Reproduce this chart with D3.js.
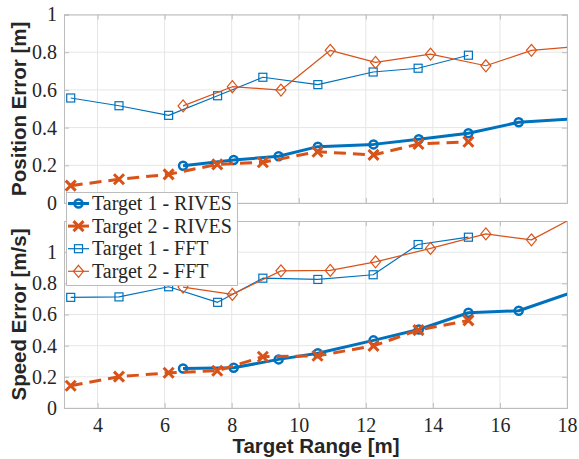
<!DOCTYPE html>
<html>
<head>
<meta charset="utf-8">
<script src="https://cdn.jsdelivr.net/npm/d3@7"></script>
<style>
  body { margin: 0; background: #fff; }
  svg { display: block; }
  .serif { font-family: "Liberation Serif", "Times New Roman", serif; }
</style>
</head>
<body>
<script>
// values (the last point of some lines lies past x=18 and is clipped)
const t1RivesX = [6.55, 8.06, 9.4, 10.57, 12.23, 13.58, 15.06, 16.56, 18.4];
const t2RivesX = [3.2, 4.64, 6.12, 7.57, 8.93, 10.56, 12.23, 13.57, 15.06];
const t1FftX   = [3.2, 4.64, 6.12, 7.58, 8.93, 10.57, 12.22, 13.56, 15.06];
const t2FftX   = [6.55, 8.02, 9.47, 10.94, 12.29, 13.93, 15.58, 16.94, 18.4];

// position error [m]
const posT1Rives = [0.198, 0.228, 0.248, 0.299, 0.311, 0.338, 0.370, 0.428, 0.448];
const posT2Rives = [0.092, 0.126, 0.152, 0.205, 0.216, 0.272, 0.255, 0.313, 0.325];
const posT1Fft   = [0.557, 0.516, 0.465, 0.569, 0.667, 0.628, 0.695, 0.715, 0.784];
const posT2Fft   = [0.515, 0.617, 0.599, 0.810, 0.746, 0.790, 0.728, 0.810, 0.831];

// speed error [m/s]
const spdT1Rives = [0.254, 0.258, 0.312, 0.351, 0.434, 0.504, 0.611, 0.624, 0.760];
const spdT2Rives = [0.143, 0.201, 0.226, 0.239, 0.329, 0.335, 0.399, 0.500, 0.562];
const spdT1Fft   = [0.710, 0.713, 0.778, 0.678, 0.833, 0.825, 0.855, 1.049, 1.096];
const spdT2Fft   = [0.776, 0.729, 0.880, 0.883, 0.938, 1.024, 1.117, 1.079, 1.245];

const xTicks = [4, 6, 8, 10, 12, 14, 16, 18];
const yTicks = [0, 0.2, 0.4, 0.6, 0.8, 1];
const legendLabels = ["Target 1 - RIVES", "Target 2 - RIVES", "Target 1 - FFT", "Target 2 - FFT"];

const blue = "#0072BD", orange = "#D95319";
const sans = "Liberation Sans, Arial, sans-serif";

const styles = [
  {color: blue,   width: 3,   dash: null,   marker: "circle"},
  {color: orange, width: 3,   dash: "12,7", marker: "cross"},
  {color: blue,   width: 1.2, dash: null,   marker: "square"},
  {color: orange, width: 1.2, dash: null,   marker: "diamond"}
];

const svg = d3.select("body").append("svg")
    .attr("width", 579).attr("height", 459);

const x = d3.scaleLinear().domain([3, 18]).range([64, 567]);

const panels = [
  {id: "top", y: d3.scaleLinear().domain([0, 1]).range([203, 14.5]),
   series: [[t1RivesX, posT1Rives], [t2RivesX, posT2Rives], [t1FftX, posT1Fft], [t2FftX, posT2Fft]],
   label: "Position Error [m]", xLabels: false},
  {id: "bot", y: d3.scaleLinear().domain([0, 1.2]).range([408, 221]),
   series: [[t1RivesX, spdT1Rives], [t2RivesX, spdT2Rives], [t1FftX, spdT1Fft], [t2FftX, spdT2Fft]],
   label: "Speed Error [m/s]", xLabels: true}
];

function drawMarker(g, type, cx, cy, st) {
  if (type === "circle") {
    g.append("circle").attr("cx", cx).attr("cy", cy).attr("r", 4)
      .attr("fill", "none").attr("stroke", st.color).attr("stroke-width", 2.5);
  } else if (type === "cross") {
    const s = 5;
    g.append("path").attr("d", `M${cx-s},${cy-s}L${cx+s},${cy+s}M${cx-s},${cy+s}L${cx+s},${cy-s}`)
      .attr("stroke", st.color).attr("stroke-width", 3).attr("fill", "none");
  } else if (type === "square") {
    g.append("rect").attr("x", cx - 4).attr("y", cy - 4).attr("width", 8).attr("height", 8)
      .attr("fill", "none").attr("stroke", st.color).attr("stroke-width", 1.2);
  } else {
    g.append("path").attr("d", `M${cx},${cy-6}L${cx+5},${cy}L${cx},${cy+6}L${cx-5},${cy}Z`)
      .attr("fill", "none").attr("stroke", st.color).attr("stroke-width", 1.2);
  }
}

panels.forEach(p => {
  const [y0, y1] = p.y.range();
  const g = svg.append("g");

  // grid
  g.selectAll(".gx").data(xTicks).join("line")
    .attr("x1", d => x(d)).attr("x2", d => x(d)).attr("y1", y1).attr("y2", y0)
    .attr("stroke", "#e6e6e6").attr("stroke-width", 1);
  g.selectAll(".gy").data(yTicks).join("line")
    .attr("x1", 64).attr("x2", 567).attr("y1", d => p.y(d)).attr("y2", d => p.y(d))
    .attr("stroke", "#e6e6e6").attr("stroke-width", 1);

  // axes: left/bottom with labels, plus inner ticks all round
  const left = d3.axisLeft(p.y).tickValues(yTicks).tickSize(-5).tickPadding(7)
    .tickFormat(d => d3.format("~g")(d));
  const right = d3.axisRight(p.y).tickValues(yTicks).tickSize(-5).tickFormat("");
  const bottom = d3.axisBottom(x).tickValues(xTicks).tickSize(-5).tickPadding(10)
    .tickFormat(p.xLabels ? d3.format("d") : "");
  const top = d3.axisTop(x).tickValues(xTicks).tickSize(-5).tickFormat("");

  [[left, `translate(64,0)`], [right, `translate(567,0)`],
   [bottom, `translate(0,${y0})`], [top, `translate(0,${y1})`]].forEach(([ax, tr]) => {
    const a = g.append("g").attr("transform", tr).call(ax).attr("font-family", null);
    a.select(".domain").attr("stroke", "#bcbcbc").attr("stroke-width", 1);
    a.selectAll(".tick line").attr("stroke", "#bcbcbc");
    a.selectAll("text").attr("class", "serif").attr("font-size", 20).attr("fill", "#262626");
  });

  // clipped data
  const clipId = "clip-" + p.id;
  svg.append("clipPath").attr("id", clipId).append("rect")
    .attr("x", 64).attr("y", y1).attr("width", 503).attr("height", y0 - y1);
  const dg = svg.append("g").attr("clip-path", `url(#${clipId})`);
  const line = d3.line().x(d => x(d[0])).y(d => p.y(d[1]));

  [2, 3, 0, 1].forEach(i => {
    const [xs, ys] = p.series[i];
    const st = styles[i];
    const pts = xs.map((v, k) => [v, ys[k]]);
    dg.append("path").datum(pts).attr("d", line)
      .attr("fill", "none").attr("stroke", st.color).attr("stroke-width", st.width)
      .attr("stroke-dasharray", st.dash).attr("stroke-linejoin", "round");
    pts.forEach(d => drawMarker(dg, st.marker, x(d[0]), p.y(d[1]), st));
  });

  // y label
  svg.append("text")
    .attr("transform", `translate(26,${(y0 + y1) / 2}) rotate(-90)`)
    .attr("text-anchor", "middle").attr("font-family", sans).attr("font-weight", "bold")
    .attr("font-size", 20.5).attr("fill", "#262626").text(p.label);
});

// x label
svg.append("text").attr("x", 316).attr("y", 452.5).attr("text-anchor", "middle")
  .attr("font-family", sans).attr("font-weight", "bold").attr("font-size", 20.5)
  .attr("fill", "#262626").text("Target Range [m]");

// legend
const lg = svg.append("g");
lg.append("rect").attr("x", 66.5).attr("y", 192.5).attr("width", 171).attr("height", 93)
  .attr("fill", "#fff").attr("stroke", "#bcbcbc").attr("stroke-width", 1);
legendLabels.forEach((t, i) => {
  const cy = 203.5 + i * 22.6;
  const st = styles[i];
  lg.append("line").attr("x1", 68).attr("x2", 89).attr("y1", cy).attr("y2", cy)
    .attr("stroke", st.color).attr("stroke-width", st.width);
  drawMarker(lg, st.marker, 78.5, cy, st);
  lg.append("text").attr("class", "serif").attr("x", 92).attr("y", cy + 6.5)
    .attr("font-size", 20).attr("fill", "#262626").text(t);
});
</script>
</body>
</html>
